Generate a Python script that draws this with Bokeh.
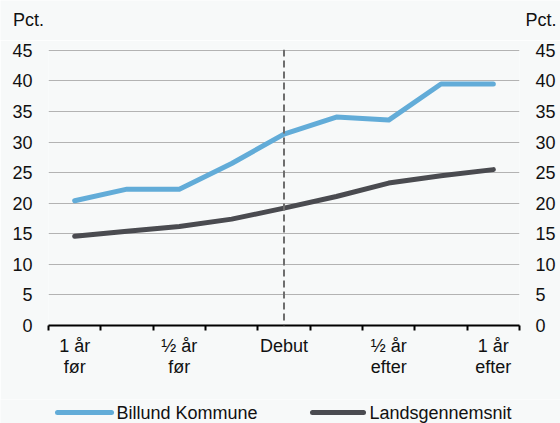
from bokeh.plotting import figure
from bokeh.models import Range1d, LinearAxis, FixedTicker, Span
from bokeh.core.properties import value
from bokeh.layouts import column
from bokeh.embed import file_html
from bokeh.resources import INLINE

# ---- data ----
periods = ["1 år\nfør", "", "½ år\nfør", "", "Debut", "", "½ år\nefter", "", "1 år\nefter"]
billund = [20.4, 22.3, 22.3, 26.5, 31.3, 34.1, 33.6, 39.5, 39.5]
lands = [14.6, 15.4, 16.2, 17.4, 19.2, 21.1, 23.3, 24.5, 25.5]
series_names = ["Billund Kommune", "Landsgennemsnit"]
y_ticks = [0, 5, 10, 15, 20, 25, 30, 35, 40, 45]
unit_label = "Pct."

BG = "#f7f9f9"
BLUE = "#62acd8"
DARK = "#4a4b50"
TXT = "#111111"
FONT = "Liberation Sans"
FS = "18px"
W = 560


def bare(height):
    f = figure(width=W, height=height, output_backend="svg", toolbar_location=None,
               x_range=Range1d(0, W), y_range=Range1d(0, height),
               min_border=0, background_fill_color=BG, border_fill_color=BG,
               outline_line_color=None, x_axis_location=None, y_axis_location=None)
    f.grid.visible = False
    f.frame_align = False
    return f


# ---- top strip: unit labels of both y axes ----
top = bare(40)
top.text(x=[12.5], y=[20.5], text=[unit_label], text_font=value(FONT), text_font_size=value(FS),
         text_baseline="middle", text_align="left", text_color=TXT)
top.text(x=[556], y=[20.5], text=[unit_label], text_font=value(FONT), text_font_size=value(FS),
         text_baseline="middle", text_align="right", text_color=TXT)

# ---- main chart ----
xs = list(range(1, len(periods) + 1))
p = figure(width=W, height=359, output_backend="svg", toolbar_location=None,
           x_range=Range1d(0.5, len(periods) + 0.5), y_range=Range1d(0, 45.15),
           min_border_left=48, min_border_right=41, min_border_top=9, min_border_bottom=74,
           background_fill_color=BG, border_fill_color=BG, outline_line_color=None,
           y_axis_location=None)
p.frame_align = False

p.xgrid.grid_line_color = None
p.ygrid.ticker = FixedTicker(ticks=y_ticks[1:])
p.ygrid.grid_line_color = "#b3b3b3"
p.ygrid.grid_line_width = 1

xa = p.xaxis[0]
label_ticks = [x for x, l in zip(xs, periods) if l]
xa.ticker = FixedTicker(ticks=label_ticks, minor_ticks=[x - 0.5 for x in xs] + [xs[-1] + 0.5])
xa.major_label_overrides = {x: l for x, l in zip(xs, periods) if l}
xa.axis_line_color = "black"
xa.axis_line_width = 2
xa.major_tick_line_color = None
xa.major_tick_out = 0
xa.major_tick_in = 0
xa.minor_tick_line_color = "black"
xa.minor_tick_line_width = 2
xa.minor_tick_out = 5
xa.minor_tick_in = 0
xa.major_label_standoff = 5
xa.major_label_text_font = FONT
xa.major_label_text_font_size = FS
xa.major_label_text_line_height = 1.05
xa.major_label_text_color = TXT

for side in ("left", "right"):
    ax = LinearAxis(ticker=FixedTicker(ticks=y_ticks))
    ax.axis_line_color = None
    ax.major_tick_line_color = None
    ax.minor_tick_line_color = None
    ax.major_tick_out = 0
    ax.major_label_standoff = 16
    ax.major_label_text_font = FONT
    ax.major_label_text_font_size = FS
    ax.major_label_text_color = TXT
    p.add_layout(ax, side)

debut_x = periods.index("Debut") + 1
p.add_layout(Span(location=debut_x, dimension="height", line_color="#6e6e6e",
                  line_width=2, line_dash="7 4"))

p.line(xs, billund, line_color=BLUE, line_width=5, line_cap="round", line_join="round")
p.line(xs, lands, line_color=DARK, line_width=5, line_cap="round", line_join="round")

# ---- legend strip ----
leg = bare(24)
colors = [BLUE, DARK]
sample_x0 = [57, 312]
sample_x1 = [111, 363]
label_x = [116, 369]
mid = 11
leg.segment(x0=sample_x0, y0=[mid, mid], x1=sample_x1, y1=[mid, mid],
            line_color=colors, line_width=5, line_cap="round")
leg.text(x=label_x, y=[mid, mid], text=series_names, text_font=value(FONT),
         text_font_size=value(FS), text_baseline="middle", text_align="left", text_color=TXT)

layout = column(top, p, leg, spacing=0)
open("out.html", "w").write(file_html(layout, INLINE))
